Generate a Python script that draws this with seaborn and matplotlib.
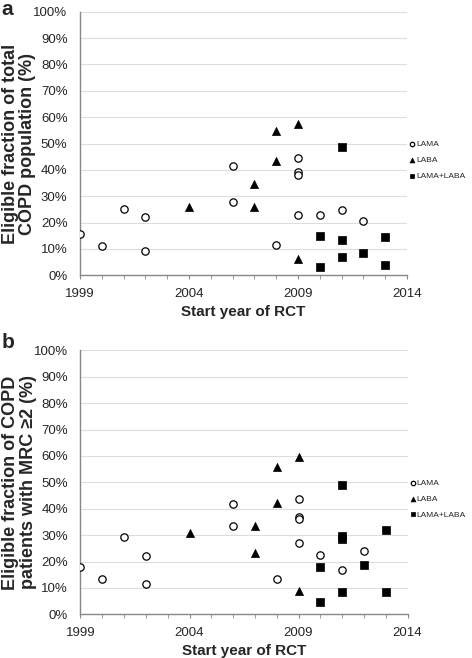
import matplotlib
matplotlib.use("Agg")
import matplotlib.pyplot as plt
import pandas as pd
import seaborn as sns
from matplotlib.ticker import PercentFormatter, MultipleLocator

sns.set_style("white")
plt.rcParams["font.family"] = ["Liberation Sans", "DejaVu Sans"]

# Panel a: eligible fraction of total COPD population
a_lama_year = [1999, 2000, 2001, 2002, 2002, 2006, 2006, 2008, 2009, 2009, 2009, 2009, 2010, 2011, 2012]
a_lama_val = [15.5, 11.0, 25.0, 22.2, 9.4, 41.5, 27.7, 11.6, 44.6, 39.2, 37.9, 23.0, 22.8, 24.9, 20.6]
a_laba_year = [2004, 2007, 2007, 2008, 2008, 2009, 2009]
a_laba_val = [26.0, 34.8, 26.0, 54.9, 43.2, 57.4, 6.2]
a_combo_year = [2010, 2010, 2011, 2011, 2011, 2012, 2013, 2013]
a_combo_val = [15.0, 3.3, 48.8, 13.5, 7.0, 8.3, 14.5, 3.8]

# Panel b: eligible fraction of COPD patients with MRC >= 2
b_lama_year = [1999, 2000, 2001, 2002, 2002, 2006, 2006, 2008, 2009, 2009, 2009, 2009, 2010, 2011, 2012]
b_lama_val = [17.8, 13.3, 29.2, 22.1, 11.4, 41.7, 33.5, 13.5, 43.7, 36.9, 36.1, 27.1, 22.5, 16.7, 24.1]
b_laba_year = [2004, 2007, 2007, 2008, 2008, 2009, 2009]
b_laba_val = [30.7, 33.6, 23.1, 55.9, 42.0, 59.5, 8.7]
b_combo_year = [2010, 2010, 2011, 2011, 2011, 2011, 2012, 2013, 2013]
b_combo_val = [17.9, 4.7, 48.9, 29.5, 28.4, 8.3, 18.6, 31.8, 8.3]

groups = ["LAMA", "LABA", "LAMA+LABA"]


def make_df(lama, laba, combo):
    rows = []
    for g, (yrs, vals) in zip(groups, [lama, laba, combo]):
        for y, v in zip(yrs, vals):
            rows.append({"year": y, "value": v, "group": g})
    return pd.DataFrame(rows)


df_a = make_df((a_lama_year, a_lama_val), (a_laba_year, a_laba_val), (a_combo_year, a_combo_val))
df_b = make_df((b_lama_year, b_lama_val), (b_laba_year, b_laba_val), (b_combo_year, b_combo_val))

styles = {
    "LAMA": dict(marker="o", facecolor="white", edgecolor="black", s=28, linewidth=0.9),
    "LABA": dict(marker="^", facecolor="black", edgecolor="black", s=34, linewidth=0.5),
    "LAMA+LABA": dict(marker="s", facecolor="black", edgecolor="black", s=26, linewidth=0.5),
}

fig = plt.figure(figsize=(4.72, 6.58), dpi=100)
ax_a = fig.add_axes([0.1695, 0.5816, 0.693, 0.4006])
ax_b = fig.add_axes([0.1705, 0.0664, 0.693, 0.401])

ylabels = ["Eligible fraction of total\nCOPD population (%)",
           "Eligible fraction of COPD\npatients with MRC \u22652 (%)"]

for ax, df, ylab, letter, ly in [(ax_a, df_a, ylabels[0], "a", 1.045),
                                 (ax_b, df_b, ylabels[1], "b", 1.068)]:
    for g in groups:
        sub = df[df["group"] == g]
        sns.scatterplot(data=sub, x="year", y="value", ax=ax, label=g, zorder=3, **styles[g])
    ax.set_xlim(1999, 2014)
    ax.set_ylim(0, 100)
    ax.yaxis.set_major_locator(MultipleLocator(10))
    ax.yaxis.set_major_formatter(PercentFormatter(decimals=0))
    ax.set_xticks([1999, 2004, 2009, 2014])
    ax.set_xticks(range(1999, 2015), minor=True)
    ax.tick_params(axis="x", which="both", direction="out", length=3, color="#888888",
                   bottom=True, labelsize=9.5, pad=6)
    ax.tick_params(axis="y", length=0, labelsize=9.5, pad=9)
    ax.grid(axis="y", color="#dddddd", linewidth=0.8)
    ax.set_axisbelow(True)
    for side in ["top", "right"]:
        ax.spines[side].set_visible(False)
    for side in ["left", "bottom"]:
        ax.spines[side].set_color("#888888")
        ax.spines[side].set_linewidth(1.0)
    ax.set_xlabel("Start year of RCT", fontsize=11, fontweight="bold", labelpad=4)
    ax.set_ylabel(ylab, fontsize=13, fontweight="bold", linespacing=1.05)
    ax.yaxis.set_label_coords(-0.134, 0.5)
    ax.legend(loc="center left", bbox_to_anchor=(1.0, 0.437), frameon=False, fontsize=6,
              handletextpad=0.1, borderpad=0.0, borderaxespad=0.2, labelspacing=0.95,
              markerscale=0.6, handlelength=0.8)
    ax.text(-0.24, ly, letter, transform=ax.transAxes, fontsize=15, fontweight="bold",
            va="top", ha="left")

fig.savefig("out.png", dpi=100)
